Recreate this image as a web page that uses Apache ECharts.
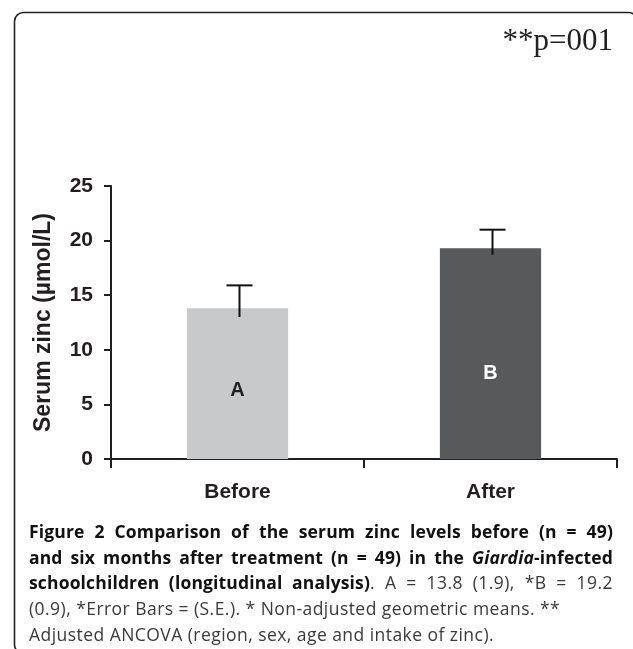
<!DOCTYPE html>
<html>
<head>
<meta charset="utf-8">
<script src="https://cdn.jsdelivr.net/npm/echarts@6/dist/echarts.min.js"></script>
<style>
  html, body { margin: 0; padding: 0; background: #fff; }
  #wrap { position: relative; width: 633px; height: 649px; overflow: hidden; }
  #chart { position: absolute; left: 0; top: 0; width: 633px; height: 649px; }
  #cap { position: absolute; left: 29px; top: 519px; width: 584px;
         font-family: 'Open Sans', sans-serif; font-size: 17.5px; line-height: 25.7px;
         color: #3a3a3a; letter-spacing: 0.45px; }
  #cap .ln { white-space: nowrap; }
  #cap .j { text-align: justify; text-align-last: justify; }
  #cap b { color: #111; font-weight: 700; letter-spacing: 0.15px; }
</style>
</head>
<body>
<div id="wrap">
  <div id="chart"></div>
  <div id="cap">
    <div class="ln j"><b>Figure 2 Comparison of the serum zinc levels before (n = 49)</b></div>
    <div class="ln j"><b>and six months after treatment (n = 49) in the <i>Giardia</i>-infected</b></div>
    <div class="ln j"><b>schoolchildren (longitudinal analysis)</b>. A = 13.8 (1.9), *B = 19.2</div>
    <div class="ln">(0.9), *Error Bars = (S.E.). * Non-adjusted geometric means. **</div>
    <div class="ln">Adjusted ANCOVA (region, sex, age and intake of zinc).</div>
  </div>
</div>
<script>
// ---- data ----
const categories = ['Before', 'After'];
const barLetters = ['A', 'B'];
const zincMeans = [13.8, 19.3];
const errUpper = [15.9, 21.0];
const errLower = [13.0, 18.7];
const yTicks = [0, 5, 10, 15, 20, 25];
const yAxisTitle = 'Serum zinc (µmol/L)';
const pText = '**p=001';

// ---- styles ----
const ink = '#231f20';
const barColors = ['#c8c9cb', '#58595b'];
const labelColors = [ink, '#ffffff'];
const labelOffsets = [[0, 7], [0, 20]];

const chart = echarts.init(document.getElementById('chart'), null, { renderer: 'canvas' });

const barData = zincMeans.map((v, i) => ({
  value: v,
  itemStyle: { color: barColors[i] },
  label: {
    show: true, position: 'inside', formatter: barLetters[i],
    color: labelColors[i], fontFamily: 'Liberation Sans, Arial, sans-serif',
    fontWeight: 'bold', fontSize: 20, offset: labelOffsets[i]
  }
}));
const errData = categories.map((c, i) => [i, errLower[i], errUpper[i]]);

chart.setOption({
  animation: false,
  backgroundColor: '#fff',
  grid: { left: 111, right: 16, top: 186, bottom: 190 },
  xAxis: {
    type: 'category',
    data: categories,
    boundaryGap: true,
    axisLine: { lineStyle: { color: ink, width: 2 } },
    axisTick: { show: true, length: 9, lineStyle: { color: ink, width: 2 } },
    axisLabel: { color: ink, fontFamily: 'Liberation Sans, Arial, sans-serif', fontWeight: 'bold', fontSize: 21, margin: 23 }
  },
  yAxis: {
    type: 'value',
    min: yTicks[0], max: yTicks[yTicks.length - 1], interval: 5,
    name: yAxisTitle,
    nameLocation: 'middle',
    nameRotate: 90,
    nameGap: 56,
    nameTextStyle: { color: ink, fontFamily: 'Liberation Sans, Arial, sans-serif', fontWeight: 'bold', fontSize: 23 },
    axisLine: { show: true, lineStyle: { color: ink, width: 2 } },
    axisTick: { show: true, length: 7, lineStyle: { color: ink, width: 2 } },
    splitLine: { show: false },
    axisLabel: { color: ink, fontFamily: 'Liberation Sans, Arial, sans-serif', fontWeight: 'bold', fontSize: 21, margin: 18 }
  },
  series: [
    {
      type: 'bar',
      data: barData,
      barWidth: '40%',
      z: 2
    },
    {
      type: 'custom',
      z: 5,
      data: errData,
      renderItem: function (params, api) {
        const x = api.value(0);
        const lo = api.coord([x, api.value(1)]);
        const hi = api.coord([x, api.value(2)]);
        const half = 13;
        const st = { stroke: '#111', lineWidth: 2 };
        return {
          type: 'group',
          children: [
            { type: 'line', shape: { x1: hi[0] + 2, y1: lo[1], x2: hi[0] + 2, y2: hi[1] }, style: st },
            { type: 'line', shape: { x1: hi[0] + 2 - half, y1: hi[1], x2: hi[0] + 2 + half, y2: hi[1] }, style: st }
          ]
        };
      }
    }
  ],
  graphic: [
    {
      type: 'rect', left: 12, top: 10, z: 0, silent: true,
      shape: { width: 623, height: 641, r: 9 },
      style: { fill: 'none', stroke: '#222', lineWidth: 1.6 }
    },
    {
      type: 'text', x: 613, y: 57, z: 10,
      style: {
        text: pText, fill: '#222', textAlign: 'right', textVerticalAlign: 'bottom',
        font: '31px "Liberation Serif", "Times New Roman", serif'
      }
    }
  ]
});
</script>
</body>
</html>
